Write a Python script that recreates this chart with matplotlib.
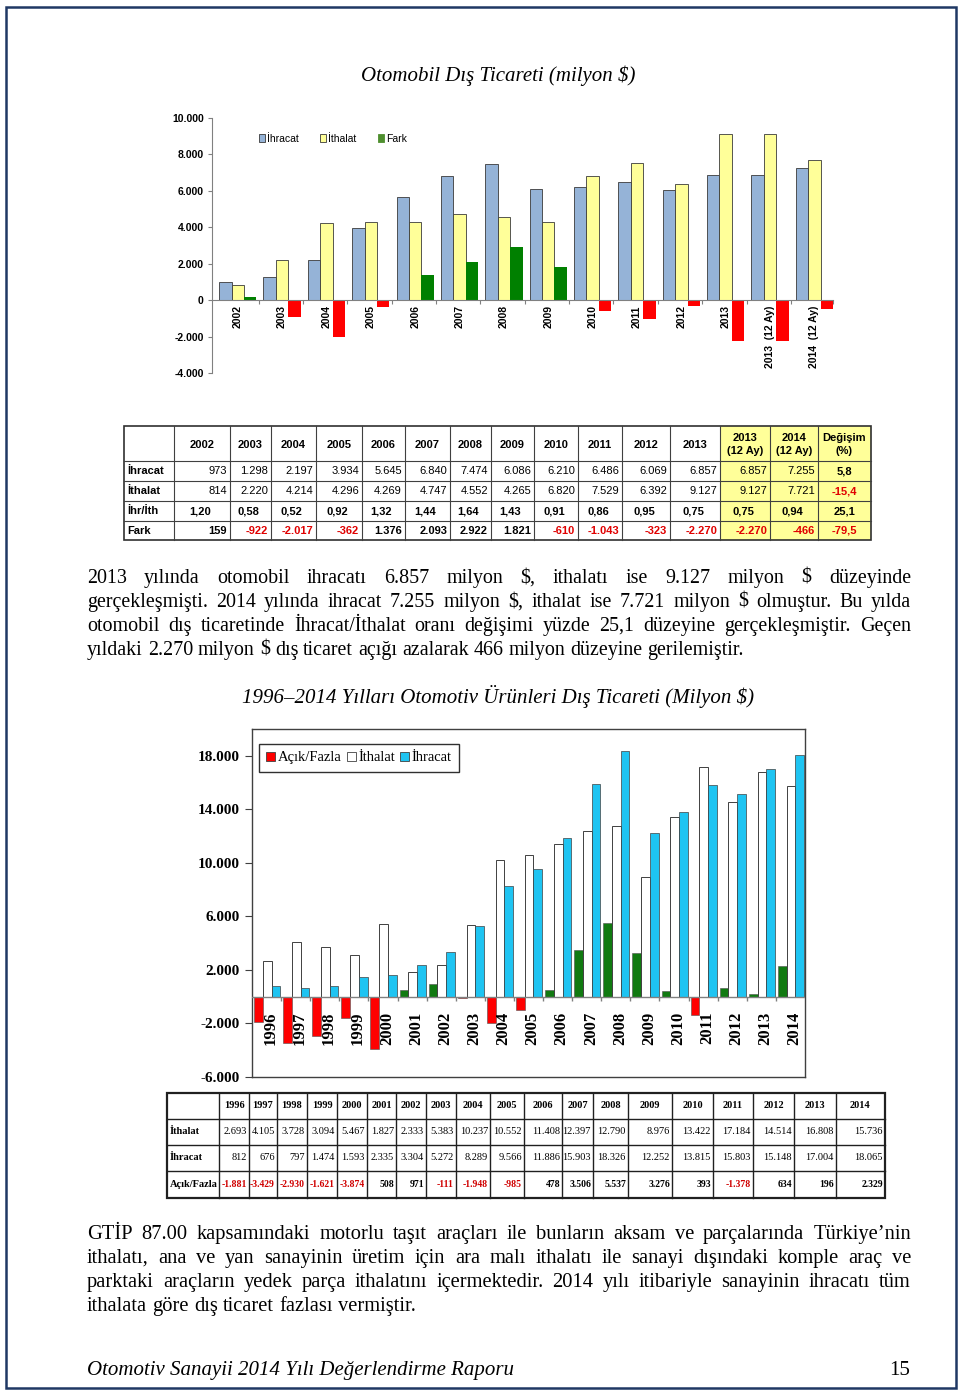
import matplotlib
matplotlib.use('Agg')
import matplotlib.pyplot as plt
from matplotlib.patches import Rectangle, Patch
import numpy as np

W, H = 960, 1393
SERIF = 'Liberation Serif'
SANS = 'Liberation Sans'

# ---- data: chart/table 1 (otomobil) ----
cats1 = ['2002', '2003', '2004', '2005', '2006', '2007', '2008', '2009', '2010',
         '2011', '2012', '2013', '2013  (12 Ay)', '2014  (12 Ay)']
head1 = ['2002', '2003', '2004', '2005', '2006', '2007', '2008', '2009', '2010',
         '2011', '2012', '2013', '2013\n(12 Ay)', '2014\n(12 Ay)', 'Değişim\n(%)']
ihracat1 = [973, 1298, 2197, 3934, 5645, 6840, 7474, 6086, 6210, 6486, 6069, 6857, 6857, 7255]
ithalat1 = [814, 2220, 4214, 4296, 4269, 4747, 4552, 4265, 6820, 7529, 6392, 9127, 9127, 7721]
oran1 = [1.20, 0.58, 0.52, 0.92, 1.32, 1.44, 1.64, 1.43, 0.91, 0.86, 0.95, 0.75, 0.75, 0.94]
fark1 = [159, -922, -2017, -362, 1376, 2093, 2922, 1821, -610, -1043, -323, -2270, -2270, -466]
degisim1 = [5.8, -15.4, 25.1, -79.5]
rows1 = ['İhracat', 'İthalat', 'İhr/İth', 'Fark']

# ---- data: chart/table 2 (otomotiv urunleri) ----
years2 = ['1996', '1997', '1998', '1999', '2000', '2001', '2002', '2003', '2004', '2005',
          '2006', '2007', '2008', '2009', '2010', '2011', '2012', '2013', '2014']
ithalat2 = [2693, 4105, 3728, 3094, 5467, 1827, 2333, 5383, 10237, 10552, 11408, 12397,
            12790, 8976, 13422, 17184, 14514, 16808, 15736]
ihracat2 = [812, 676, 797, 1474, 1593, 2335, 3304, 5272, 8289, 9566, 11886, 15903,
            18326, 12252, 13815, 15803, 15148, 17004, 18065]
acik2 = [-1881, -3429, -2930, -1621, -3874, 508, 971, -111, -1948, -985, 478, 3506,
         5537, 3276, 393, -1378, 634, 196, 2329]
rows2 = ['İthalat', 'İhracat', 'Açık/Fazla']

para1 = ['2013 yılında otomobil ihracatı 6.857 milyon $, ithalatı ise 9.127 milyon $ düzeyinde',
         'gerçekleşmişti. 2014 yılında ihracat 7.255 milyon $, ithalat ise 7.721 milyon $ olmuştur. Bu yılda',
         'otomobil dış ticaretinde İhracat/İthalat oranı değişimi yüzde 25,1 düzeyine gerçekleşmiştir. Geçen',
         'yıldaki 2.270 milyon $ dış ticaret açığı azalarak 466 milyon düzeyine gerilemiştir.']
para2 = ['GTİP 87.00 kapsamındaki motorlu taşıt araçları ile bunların aksam ve parçalarında Türkiye’nin',
         'ithalatı, ana ve yan sanayinin üretim için ara malı ithalatı ile sanayi dışındaki komple araç ve',
         'parktaki araçların yedek parça ithalatını içermektedir. 2014 yılı itibariyle sanayinin ihracatı tüm',
         'ithalata göre dış ticaret fazlası vermiştir.']


def tr_int(v):
    s = f"{abs(v):,}".replace(',', '.')
    return '-' + s if v < 0 else s


def tr_dec(v, nd):
    return f"{v:.{nd}f}".replace('.', ',')


fig = plt.figure(figsize=(9.6, 13.93), dpi=100)
page = fig.add_axes([0, 0, 1, 1])
page.set_xlim(0, W)
page.set_ylim(H, 0)
page.axis('off')


def px_axes(l, t, r, b):
    return fig.add_axes([l / W, 1 - b / H, (r - l) / W, (b - t) / H])


# page border
page.add_patch(Rectangle((6, 7), 950, 1381, fill=False, ec='#1F3864', lw=1.8))

# titles
page.text(498, 76, 'Otomobil Dış Ticareti (milyon $)', fontsize=15, family=SERIF,
          style='italic', ha='center', va='center', parse_math=False)
page.text(498, 697, '1996–2014 Yılları Otomotiv Ürünleri Dış Ticareti (Milyon $)', fontsize=15,
          family=SERIF, style='italic', ha='center', va='center', parse_math=False)

# ================= chart 1 =================
ax1 = px_axes(212, 118, 833, 373)
ax1.patch.set_alpha(0)
x1 = np.arange(len(ihracat1))
bw = 0.28
ax1.bar(x1 - bw + 0.03, ihracat1, bw, color='#95B3D7', ec='#3a3a3a', lw=0.6)
ax1.bar(x1 + 0.03, ithalat1, bw, color='#FFFF99', ec='#3a3a3a', lw=0.6)
ax1.bar(x1 + bw + 0.03, fark1, bw, color=['#008000' if v >= 0 else '#FF0000' for v in fark1], lw=0)
ax1.set_xlim(-0.55, 13.45)
ax1.set_ylim(-4000, 10000)
yt1 = np.arange(-4000, 10001, 2000)
ax1.set_yticks(yt1)
ax1.set_yticklabels([tr_int(int(v)) for v in yt1], fontfamily=SANS, fontweight='bold', fontsize=7.5)
for s in ['top', 'right']:
    ax1.spines[s].set_visible(False)
ax1.spines['bottom'].set_position(('data', 0))
ax1.spines['bottom'].set_color('#808080')
ax1.spines['left'].set_color('#808080')
ax1.set_xticks(np.append(x1[:-1] + 0.5, 13.45))
ax1.set_xticklabels([])
ax1.tick_params(axis='x', length=3, color='#808080', direction='out')
ax1.tick_params(axis='y', length=3, color='#808080', pad=3)
for i, c in enumerate(cats1):
    ax1.text(i + 0.03, -280, c, rotation=90, ha='center', va='top', fontsize=7.5,
             fontweight='bold', family=SANS)
h1 = [Patch(fc='#95B3D7', ec='#3a3a3a', lw=0.6, label='İhracat'),
      Patch(fc='#FFFF99', ec='#3a3a3a', lw=0.6, label='İthalat'),
      Patch(fc='#4E8F2E', ec='#4E8F2E', lw=0.6, label='Fark')]
ax1.legend(handles=h1, loc='center left', bbox_to_anchor=(255 / W, 1 - 139 / H),
           bbox_transform=fig.transFigure, frameon=False, ncol=3, prop={'family': SANS, 'size': 7.5},
           handlelength=0.6, handleheight=0.8, handletextpad=0.2, columnspacing=2.0, borderaxespad=0)

# ================= table 1 =================
cx1 = [124, 174, 230, 271, 316, 362, 405, 450, 491, 534, 578, 622, 670, 720, 770, 818, 871]
ry1 = [426, 461, 481, 501, 521, 540]
page.add_patch(Rectangle((cx1[13], ry1[0]), cx1[16] - cx1[13], ry1[-1] - ry1[0], fc='#FFFF99', lw=0))
for x in cx1[1:-1]:
    page.plot([x, x], [ry1[0], ry1[-1]], color='#404040', lw=0.8)
for y in ry1[1:-1]:
    page.plot([cx1[0], cx1[-1]], [y, y], color='#404040', lw=0.8)
page.add_patch(Rectangle((cx1[0], ry1[0]), cx1[-1] - cx1[0], ry1[-1] - ry1[0], fill=False,
                         ec='#303030', lw=1.2))
tk = dict(family=SANS, fontsize=8, va='center')
for j, h in enumerate(head1):
    xc = (cx1[j + 1] + cx1[j + 2]) / 2
    page.text(xc, (ry1[0] + ry1[1]) / 2 + 1, h, ha='center', fontweight='bold',
              linespacing=1.3, **tk)
for i, r in enumerate(rows1):
    page.text(cx1[0] + 3, (ry1[i + 1] + ry1[i + 2]) / 2, r, ha='left', fontweight='bold', **tk)
for j in range(len(ihracat1)):
    xr = cx1[j + 2] - 3
    xc = (cx1[j + 1] + cx1[j + 2]) / 2
    yc = [(ry1[k] + ry1[k + 1]) / 2 for k in range(1, 5)]
    page.text(xr, yc[0], tr_int(ihracat1[j]), ha='right', **tk)
    page.text(xr, yc[1], tr_int(ithalat1[j]), ha='right', **tk)
    page.text(xc - 2, yc[2], tr_dec(oran1[j], 2), ha='center', fontweight='bold', **tk)
    page.text(xr, yc[3], tr_int(fark1[j]), ha='right', fontweight='bold',
              color='#E00000' if fark1[j] < 0 else 'black', **tk)
for k, v in enumerate(degisim1):
    page.text((cx1[15] + cx1[16]) / 2, (ry1[k + 1] + ry1[k + 2]) / 2, tr_dec(v, 1), ha='center',
              fontweight='bold', color='#E00000' if v < 0 else 'black', **tk)


# ================= paragraphs =================
def draw_line(s, base, fs, x0=87, x1=911, justify=True):
    words = s.split(' ')
    ts = [page.text(0, base, w, fontsize=fs, family=SERIF, va='baseline', ha='left',
                    parse_math=False) for w in words]
    r = fig.canvas.get_renderer()
    ws = [t.get_window_extent(r).width for t in ts]
    if justify and len(words) > 1:
        gap = (x1 - x0 - sum(ws)) / (len(words) - 1)
    else:
        gap = fs * 0.25 * 100 / 72
    x = x0
    for t, w in zip(ts, ws):
        t.set_x(x)
        x += w + gap


for k, line in enumerate(para1):
    draw_line(line, 583 + 24 * k, 14.4, justify=k < len(para1) - 1)
for k, line in enumerate(para2):
    draw_line(line, 1239 + 24 * k, 14.8, justify=k < len(para2) - 1)

# ================= chart 2 =================
ax2 = px_axes(252, 729, 805, 1077)
x2 = np.arange(len(years2))
bw2 = 0.3
ax2.bar(x2 - bw2 + 0.02, acik2, bw2, color=['#FF0000' if v < 0 else '#117A11' for v in acik2],
        ec='#505050', lw=0.4, zorder=2)
ax2.bar(x2 + 0.02, ithalat2, bw2, color='white', ec='#404040', lw=0.7, zorder=2)
ax2.bar(x2 + bw2 + 0.02, ihracat2, bw2, color='#1EC4F2', ec='#404040', lw=0.5, zorder=2)
ax2.axhline(0, color='#808080', lw=1, zorder=3)
ax2.vlines(x2[:-1] + 0.5, -300, 0, color='#808080', lw=1, zorder=3)
ax2.set_xlim(-0.5, 18.5)
ax2.set_ylim(-6000, 20000)
yt2 = np.arange(-6000, 18001, 4000)
ax2.set_yticks(yt2)
ax2.set_yticklabels([tr_int(int(v)) for v in yt2], fontfamily=SERIF, fontweight='bold', fontsize=11)
ax2.set_xticks([])
ax2.tick_params(axis='y', length=5, color='#404040', pad=4)
for s in ax2.spines.values():
    s.set_color('#404040')
    s.set_linewidth(1)
for i, y in enumerate(years2):
    ax2.text(i + 0.14, -1100, y, rotation=90, ha='center', va='top', fontsize=12,
             fontweight='bold', family=SERIF, zorder=5)
h2 = [Patch(fc='#FF0000', ec='#404040', lw=0.6, label='Açık/Fazla'),
      Patch(fc='white', ec='#404040', lw=0.6, label='İthalat'),
      Patch(fc='#1EC4F2', ec='#404040', lw=0.6, label='İhracat')]
lg = ax2.legend(handles=h2, loc='upper left', bbox_to_anchor=(259 / W, 1 - 744 / H),
                bbox_transform=fig.transFigure, ncol=3, prop={'family': SERIF, 'size': 10.5},
                handlelength=0.6, handleheight=0.6, handletextpad=0.2, columnspacing=0.35,
                borderaxespad=0, borderpad=0.5, fancybox=False, framealpha=1)
lg.get_frame().set_edgecolor('#303030')
lg.get_frame().set_linewidth(1)

# ================= table 2 =================
cx2 = [167, 219, 249, 277, 307, 337, 367, 396, 426, 456, 490, 524, 562, 593, 628, 672, 713, 753,
       794, 836, 885]
ry2 = [1093, 1119, 1145, 1171, 1198]
for x in cx2[1:-1]:
    page.plot([x, x], [ry2[0], ry2[-1]], color='#202020', lw=1)
for y in ry2[1:-1]:
    page.plot([cx2[0], cx2[-1]], [y, y], color='#202020', lw=1)
page.add_patch(Rectangle((cx2[0], ry2[0]), cx2[-1] - cx2[0], ry2[-1] - ry2[0], fill=False,
                         ec='#202020', lw=1.6))
tk2 = dict(family=SERIF, fontsize=7.5, va='center')
for j, y in enumerate(years2):
    page.text((cx2[j + 1] + cx2[j + 2]) / 2, (ry2[0] + ry2[1]) / 2, y, ha='center',
              fontweight='bold', **tk2)
for i, r in enumerate(rows2):
    page.text(cx2[0] + 3, (ry2[i + 1] + ry2[i + 2]) / 2, r, ha='left', fontweight='bold', **tk2)
for j in range(len(years2)):
    xr = cx2[j + 2] - 2
    page.text(xr, (ry2[1] + ry2[2]) / 2, tr_int(ithalat2[j]), ha='right', **tk2)
    page.text(xr, (ry2[2] + ry2[3]) / 2, tr_int(ihracat2[j]), ha='right', **tk2)
    page.text(xr, (ry2[3] + ry2[4]) / 2, tr_int(acik2[j]), ha='right', fontweight='bold',
              color='#D00000' if acik2[j] < 0 else 'black', **{**tk2, 'fontsize': 7})

# footer
page.text(87, 1375, 'Otomotiv Sanayii 2014 Yılı Değerlendirme Raporu', fontsize=15, family=SERIF,
          style='italic', ha='left', va='baseline')
page.text(910, 1375, '15', fontsize=15, family=SERIF, ha='right', va='baseline')

fig.savefig('out.png', dpi=100)
